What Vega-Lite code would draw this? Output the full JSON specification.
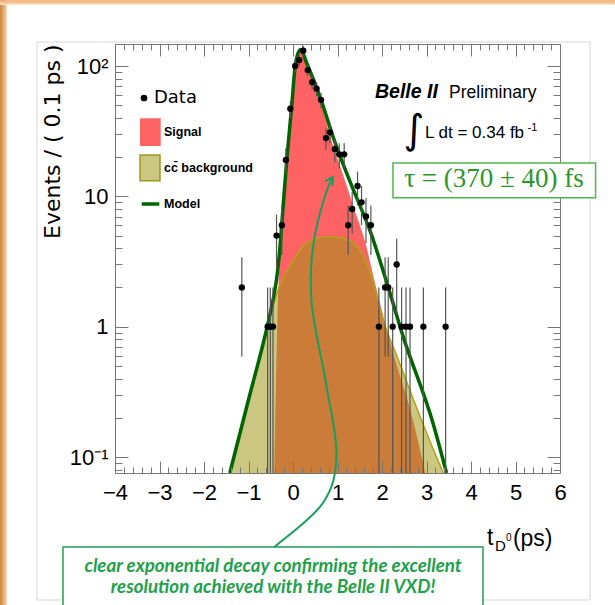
{
 "$schema": "https://vega.github.io/schema/vega-lite/v6.json",
 "width": 445,
 "height": 429,
 "autosize": {"type": "none"},
 "padding": {"left": 115, "top": 44, "right": 55, "bottom": 132},
 "background": "white",
 "datasets": {
  "points": [
   {"t": -1.15, "n": 2, "lo": 0.59, "hi": 3.41},
   {"t": -0.57, "n": 1, "lo": 0, "hi": 2},
   {"t": -0.51, "n": 1, "lo": 0, "hi": 2},
   {"t": -0.45, "n": 1, "lo": 0, "hi": 2},
   {"t": -0.37, "n": 5, "lo": 2.76, "hi": 7.24},
   {"t": -0.25, "n": 6, "lo": 3.55, "hi": 8.45},
   {"t": -0.16, "n": 19, "lo": 14.64, "hi": 23.36},
   {"t": -0.06, "n": 47, "lo": 40.14, "hi": 53.86},
   {"t": 0.05, "n": 100, "lo": 90, "hi": 110},
   {"t": 0.14, "n": 111, "lo": 100.46, "hi": 121.54},
   {"t": 0.23, "n": 131, "lo": 119.55, "hi": 142.45},
   {"t": 0.33, "n": 93, "lo": 83.36, "hi": 102.64},
   {"t": 0.43, "n": 75, "lo": 66.34, "hi": 83.66},
   {"t": 0.53, "n": 67, "lo": 58.81, "hi": 75.19},
   {"t": 0.63, "n": 55, "lo": 47.58, "hi": 62.42},
   {"t": 0.74, "n": 28, "lo": 22.71, "hi": 33.29},
   {"t": 0.83, "n": 31, "lo": 25.43, "hi": 36.57},
   {"t": 0.94, "n": 23, "lo": 18.2, "hi": 27.8},
   {"t": 1.04, "n": 21, "lo": 16.42, "hi": 25.58},
   {"t": 1.15, "n": 21, "lo": 16.42, "hi": 25.58},
   {"t": 1.24, "n": 6, "lo": 3.55, "hi": 8.45},
   {"t": 1.33, "n": 8, "lo": 5.17, "hi": 10.83},
   {"t": 1.45, "n": 12, "lo": 8.54, "hi": 15.46},
   {"t": 1.54, "n": 9, "lo": 6, "hi": 12},
   {"t": 1.64, "n": 7, "lo": 4.35, "hi": 9.65},
   {"t": 1.75, "n": 6, "lo": 3.55, "hi": 8.45},
   {"t": 1.93, "n": 1, "lo": 0, "hi": 2},
   {"t": 2.07, "n": 2, "lo": 0.59, "hi": 3.41},
   {"t": 2.14, "n": 2, "lo": 0.59, "hi": 3.41},
   {"t": 2.24, "n": 1, "lo": 0, "hi": 2},
   {"t": 2.33, "n": 3, "lo": 1.27, "hi": 4.73},
   {"t": 2.44, "n": 1, "lo": 0, "hi": 2},
   {"t": 2.54, "n": 1, "lo": 0, "hi": 2},
   {"t": 2.63, "n": 1, "lo": 0, "hi": 2},
   {"t": 2.93, "n": 1, "lo": 0, "hi": 2},
   {"t": 3.43, "n": 1, "lo": 0, "hi": 2}
  ],
  "signal": [
   {"t": -0.42, "v": 0.0754}, {"t": -0.37, "v": 0.6}, {"t": -0.34, "v": 1.5}, {"t": -0.3, "v": 3.2},
   {"t": -0.25, "v": 6.0}, {"t": -0.14, "v": 18.5}, {"t": -0.03, "v": 48}, {"t": 0.045, "v": 96},
   {"t": 0.1, "v": 120}, {"t": 0.17, "v": 131}, {"t": 0.31, "v": 101}, {"t": 0.63, "v": 51},
   {"t": 0.91, "v": 24}, {"t": 1.06, "v": 17}, {"t": 1.36, "v": 8.3}, {"t": 1.65, "v": 4.1},
   {"t": 1.81, "v": 2.4}, {"t": 2.25, "v": 0.63}, {"t": 2.7, "v": 0.19}, {"t": 2.97, "v": 0.0754}
  ],
  "background": [
   {"t": -1.42, "v": 0.0754}, {"t": -1.0, "v": 0.275}, {"t": -0.58, "v": 1.0}, {"t": -0.35, "v": 1.85},
   {"t": -0.07, "v": 2.9}, {"t": 0.31, "v": 4.4}, {"t": 0.79, "v": 4.9}, {"t": 1.1, "v": 4.8},
   {"t": 1.36, "v": 4.4}, {"t": 1.6, "v": 3.4}, {"t": 1.8, "v": 2.2}, {"t": 2.0, "v": 1.2},
   {"t": 2.33, "v": 0.6}, {"t": 2.7, "v": 0.28}, {"t": 3.15, "v": 0.115}, {"t": 3.38, "v": 0.0754}
  ],
  "model": [
   {"t": -1.42, "v": 0.0754}, {"t": -1.0, "v": 0.275}, {"t": -0.58, "v": 1.0}, {"t": -0.45, "v": 1.6},
   {"t": -0.37, "v": 2.3}, {"t": -0.3, "v": 3.8}, {"t": -0.25, "v": 6.3}, {"t": -0.14, "v": 19},
   {"t": -0.03, "v": 49}, {"t": 0.045, "v": 97}, {"t": 0.1, "v": 122}, {"t": 0.17, "v": 134},
   {"t": 0.31, "v": 105}, {"t": 0.63, "v": 55}, {"t": 0.91, "v": 28}, {"t": 1.28, "v": 13},
   {"t": 1.77, "v": 5.0}, {"t": 2.07, "v": 2.4}, {"t": 2.47, "v": 0.85}, {"t": 3.15, "v": 0.18},
   {"t": 3.45, "v": 0.0754}
  ]
 },
 "layer": [
  {
   "layer": [
    {
     "data": {"values": [{}]},
     "mark": {"type": "rect", "fill": {"gradient": "linear", "x1": 0, "x2": 1, "y1": 0, "y2": 0, "stops": [{"offset": 0, "color": "#cf843a"}, {"offset": 1, "color": "#f3d2ae"}]}},
     "encoding": {"x": {"datum": -6.584}, "x2": {"datum": -6.43}, "y": {"datum": 320}, "y2": {"datum": 0.0073}}
    },
    {
     "data": {"values": [{}]},
     "mark": {"type": "rect", "fill": {"gradient": "linear", "x1": 0, "x2": 0, "y1": 0, "y2": 1, "stops": [{"offset": 0, "color": "#f0a35c"}, {"offset": 1, "color": "#fbe6d2"}]}},
     "encoding": {"x": {"datum": -6.584}, "x2": {"datum": 7.236}, "y": {"datum": 320}, "y2": {"datum": 294}}
    },
    {
     "data": {"values": [{}]},
     "mark": {"type": "rect", "fillOpacity": 0, "stroke": "#d6d6d6", "strokeWidth": 1},
     "encoding": {"x": {"datum": -5.753}, "x2": {"datum": 6.674}, "y": {"datum": 152.8}, "y2": {"datum": 0.008}}
    },
    {
     "data": {"name": "signal"},
     "mark": {"type": "area", "color": "#ff6262", "interpolate": "monotone"},
     "encoding": {
      "x": {"field": "t", "type": "quantitative", "scale": {"domain": [-4, 6], "nice": false, "zero": false},
       "axis": {"orient": "bottom", "values": [-4, -3, -2, -1, 0, 1, 2, 3, 4, 5, 6], "format": "d", "tickSize": -12, "labelPadding": 21, "labelFontSize": 22, "labelFont": "Liberation Sans", "labelColor": "#000", "labelFlush": false, "labelOverlap": false, "domainColor": "#777", "tickColor": "#777", "grid": false, "zindex": 1,
        "title": "(ps)", "titleFont": "Liberation Sans", "titleFontSize": 23, "titleFontWeight": "normal", "titleColor": "#000", "titleAlign": "right", "titleAnchor": "end", "titleBaseline": "alphabetic", "titleX": 437, "titleY": 72}},
      "y": {"field": "v", "type": "quantitative", "scale": {"type": "log", "domain": [0.0754, 147.5], "nice": false},
       "axis": {"orient": "left", "values": [0.1, 1, 10, 100], "tickSize": -13, "labelPadding": 20, "labelFontSize": 22, "labelFont": "Liberation Sans", "labelColor": "#000", "labelFlush": false, "labelOverlap": false, "domainColor": "#777", "tickColor": "#777", "grid": false, "zindex": 1,
        "labelExpr": "datum.value > 50 ? '10²' : datum.value > 5 ? '10' : datum.value > 0.5 ? '1' : '10⁻¹'",
        "title": "Events / ( 0.1 ps )", "titleFont": "DejaVu Sans", "titleFontSize": 22, "titleFontWeight": "normal", "titleColor": "#000", "titleAngle": -90, "titleAlign": "right", "titleBaseline": "middle", "titleX": -63, "titleY": 0}},
      "y2": {"datum": 0.0754}
     }
    },
    {
     "data": {"name": "background"},
     "mark": {"type": "area", "color": "#9d9313", "opacity": 0.53, "interpolate": "monotone"},
     "encoding": {"x": {"field": "t", "type": "quantitative"}, "y": {"field": "v", "type": "quantitative"}, "y2": {"datum": 0.0754}}
    },
    {
     "data": {"name": "background"},
     "mark": {"type": "line", "color": "#b3a414", "strokeWidth": 1.5, "interpolate": "monotone"},
     "encoding": {"x": {"field": "t", "type": "quantitative"}, "y": {"field": "v", "type": "quantitative"}}
    },
    {
     "data": {"name": "model"},
     "mark": {"type": "line", "color": "#006400", "strokeWidth": 3.5, "interpolate": "monotone"},
     "encoding": {"x": {"field": "t", "type": "quantitative"}, "y": {"field": "v", "type": "quantitative"}}
    },
    {
     "data": {"values": [{}]},
     "mark": {"type": "point", "filled": true, "color": "#000", "size": 45, "opacity": 1},
     "encoding": {"x": {"datum": -3.348}, "y": {"datum": 56.83}}
    },
    {
     "data": {"values": [{}]},
     "mark": {"type": "text", "text": "Data", "font": "DejaVu Sans", "fontSize": 18, "align": "left", "baseline": "middle", "color": "#000"},
     "encoding": {"x": {"datum": -3.124}, "y": {"datum": 56.83}}
    },
    {
     "data": {"values": [{}]},
     "mark": {"type": "rect", "fill": "#ff6262"},
     "encoding": {"x": {"datum": -3.438}, "x2": {"datum": -2.973}, "y": {"datum": 39.7}, "y2": {"datum": 24.33}}
    },
    {
     "data": {"values": [{}]},
     "mark": {"type": "text", "text": "Signal", "font": "Liberation Sans", "fontWeight": "bold", "fontSize": 12.5, "align": "left", "baseline": "middle", "color": "#000"},
     "encoding": {"x": {"datum": -2.899}, "y": {"datum": 31.17}}
    },
    {
     "data": {"values": [{}]},
     "mark": {"type": "rect", "fill": "#cbc682", "stroke": "#9c9a1c", "strokeWidth": 1.5},
     "encoding": {"x": {"datum": -3.438}, "x2": {"datum": -2.989}, "y": {"datum": 20.76}, "y2": {"datum": 13.18}}
    },
    {
     "data": {"values": [{}]},
     "mark": {"type": "text", "text": "cc̄ background", "font": "Liberation Sans", "fontWeight": "bold", "fontSize": 12.5, "align": "left", "baseline": "middle", "color": "#000"},
     "encoding": {"x": {"datum": -2.899}, "y": {"datum": 16.5}}
    },
    {
     "data": {"values": [{}]},
     "mark": {"type": "rule", "color": "#006400", "strokeWidth": 3.5},
     "encoding": {"x": {"datum": -3.4}, "x2": {"datum": -3.004}, "y": {"datum": 8.732}}
    },
    {
     "data": {"values": [{}]},
     "mark": {"type": "text", "text": "Model", "font": "Liberation Sans", "fontWeight": "bold", "fontSize": 12.5, "align": "left", "baseline": "middle", "color": "#000"},
     "encoding": {"x": {"datum": -2.899}, "y": {"datum": 8.732}}
    },
    {
     "data": {"values": [{}]},
     "mark": {"type": "text", "text": "Belle II", "font": "Liberation Sans", "fontWeight": "bold", "fontStyle": "italic", "fontSize": 19.5, "align": "left", "baseline": "alphabetic", "color": "#000"},
     "encoding": {"x": {"datum": 1.843}, "y": {"datum": 56.83}}
    },
    {
     "data": {"values": [{}]},
     "mark": {"type": "text", "text": "Preliminary", "font": "Liberation Sans", "fontSize": 17.5, "align": "left", "baseline": "alphabetic", "color": "#000"},
     "encoding": {"x": {"datum": 3.506}, "y": {"datum": 56.83}}
    },
    {
     "data": {"values": [{}]},
     "mark": {"type": "text", "text": "∫", "font": "DejaVu Sans", "fontSize": 40, "align": "center", "baseline": "middle", "color": "#000"},
     "encoding": {"x": {"datum": 2.719}, "y": {"datum": 31.72}}
    },
    {
     "data": {"values": [{}]},
     "mark": {"type": "text", "text": "L dt = 0.34 fb", "font": "Liberation Sans", "fontSize": 17, "align": "left", "baseline": "alphabetic", "color": "#000"},
     "encoding": {"x": {"datum": 2.966}, "y": {"datum": 28.03}}
    },
    {
     "data": {"values": [{}]},
     "mark": {"type": "text", "text": "-1", "font": "Liberation Sans", "fontSize": 11, "align": "left", "baseline": "alphabetic", "color": "#000"},
     "encoding": {"x": {"datum": 5.27}, "y": {"datum": 31.72}}
    },
    {
     "data": {"values": [{}]},
     "mark": {"type": "rect", "fill": "white", "stroke": "#4cb84c", "strokeWidth": 1.5},
     "encoding": {"x": {"datum": 2.247}, "x2": {"datum": 6.8}, "y": {"datum": 18.02}, "y2": {"datum": 9.744}}
    },
    {
     "data": {"values": [{}]},
     "mark": {"type": "text", "text": "τ = (370 ± 40) fs", "font": "Liberation Serif", "fontSize": 27, "align": "center", "baseline": "alphabetic", "color": "#2a972a"},
     "encoding": {"x": {"datum": 4.517}, "y": {"datum": 11.79}}
    },
    {
     "data": {"values": [{}]},
     "mark": {"type": "rect", "fill": "white", "stroke": "#22a052", "strokeWidth": 1.5},
     "encoding": {"x": {"datum": -5.169}, "x2": {"datum": 4.27}, "y": {"datum": 0.02038}, "y2": {"datum": 0.00394}}
    },
    {
     "data": {"values": [{}]},
     "mark": {"type": "text", "text": "clear exponential decay confirming the excellent", "font": "Lato", "fontStyle": "italic", "fontWeight": "bold", "fontSize": 18.7, "align": "center", "baseline": "middle", "color": "#22a04a"},
     "encoding": {"x": {"datum": -0.449}, "y": {"datum": 0.01458}}
    },
    {
     "data": {"values": [{}]},
     "mark": {"type": "text", "text": "resolution achieved with the Belle II VXD!", "font": "Lato", "fontStyle": "italic", "fontWeight": "bold", "fontSize": 18.7, "align": "center", "baseline": "middle", "color": "#22a04a"},
     "encoding": {"x": {"datum": -0.449}, "y": {"datum": 0.01006}}
    },
    {
     "data": {"values": [{}]},
     "mark": {"type": "point", "shape": "M-0.169,1C-0.125,0.96,0.037,0.845,0.093,0.762C0.149,0.679,0.163,0.608,0.166,0.503C0.169,0.398,0.135,0.271,0.113,0.134C0.091,-0.003,0.043,-0.187,0.032,-0.319C0.021,-0.451,0.026,-0.546,0.045,-0.66C0.064,-0.774,0.115,-0.95,0.147,-1M0.104,-0.977L0.147,-1L0.145,-0.951", "filled": false, "stroke": "#14a05c", "strokeWidth": 2, "size": 136900, "opacity": 1},
     "encoding": {"x": {"datum": 0.2865}, "y": {"datum": 0.5356}}
    },
    {
     "data": {"values": [{}]},
     "mark": {"type": "text", "text": "t", "font": "Liberation Sans", "fontSize": 23, "align": "left", "baseline": "alphabetic", "color": "#000"},
     "encoding": {"x": {"datum": 4.36}, "y": {"datum": 0.02113}}
    },
    {
     "data": {"values": [{}]},
     "mark": {"type": "text", "text": "D", "font": "Liberation Sans", "fontSize": 15, "align": "left", "baseline": "alphabetic", "color": "#000"},
     "encoding": {"x": {"datum": 4.539}, "y": {"datum": 0.019}}
    },
    {
     "data": {"values": [{}]},
     "mark": {"type": "text", "text": "0", "font": "Liberation Sans", "fontSize": 10, "align": "left", "baseline": "alphabetic", "color": "#000"},
     "encoding": {"x": {"datum": 4.787}, "y": {"datum": 0.02266}}
    }
   ]
  },
  {
   "data": {"name": "points"},
   "layer": [
    {
     "mark": {"type": "rule", "color": "#555", "strokeWidth": 1.2, "invalid": "show"},
     "encoding": {
      "x": {"field": "t", "type": "quantitative", "scale": {"domain": [-4, 6], "nice": false, "zero": false}, "axis": null},
      "y": {"field": "lo", "type": "quantitative", "scale": {"type": "log", "domain": [0.0754, 147.5], "nice": false, "clamp": true}, "axis": null},
      "y2": {"field": "hi"}
     }
    },
    {
     "mark": {"type": "point", "filled": true, "color": "#000", "size": 40, "opacity": 1},
     "encoding": {"x": {"field": "t", "type": "quantitative"}, "y": {"field": "n", "type": "quantitative"}}
    }
   ]
  },
  {
   "data": {"name": "points"},
   "mark": {"type": "point", "opacity": 0},
   "encoding": {
    "x": {"field": "t", "type": "quantitative", "scale": {"domain": [-4, 6], "nice": false, "zero": false},
     "axis": {"orient": "bottom", "values": [-3.8,-3.6,-3.4,-3.2,-2.8,-2.6,-2.4,-2.2,-1.8,-1.6,-1.4,-1.2,-0.8,-0.6,-0.4,-0.2,0.2,0.4,0.6,0.8,1.2,1.4,1.6,1.8,2.2,2.4,2.6,2.8,3.2,3.4,3.6,3.8,4.2,4.4,4.6,4.8,5.2,5.4,5.6,5.8], "tickSize": -6, "labels": false, "domain": false, "grid": false, "title": null, "tickColor": "#777", "zindex": 1}},
    "y": {"field": "n", "type": "quantitative", "scale": {"type": "log", "domain": [0.0754, 147.5], "nice": false},
     "axis": {"orient": "left", "values": [0.08,0.09,0.2,0.3,0.4,0.5,0.6,0.7,0.8,0.9,2,3,4,5,6,7,8,9,20,30,40,50,60,70,80,90], "tickSize": -7, "labels": false, "domain": false, "grid": false, "title": null, "tickColor": "#777", "zindex": 1}}
   }
  },
  {
   "data": {"name": "points"},
   "mark": {"type": "point", "opacity": 0},
   "encoding": {
    "x": {"field": "t", "type": "quantitative", "scale": {"domain": [-4, 6], "nice": false, "zero": false},
     "axis": {"orient": "top", "values": [-4,-3,-2,-1,0,1,2,3,4,5,6], "tickSize": -12, "labels": false, "domain": true, "grid": false, "title": null, "tickColor": "#777", "domainColor": "#777", "zindex": 0}},
    "y": {"field": "n", "type": "quantitative", "scale": {"type": "log", "domain": [0.0754, 147.5], "nice": false},
     "axis": {"orient": "right", "values": [0.1, 1, 10, 100], "tickSize": -13, "labels": false, "domain": true, "grid": false, "title": null, "tickColor": "#777", "domainColor": "#777", "zindex": 0}}
   }
  },
  {
   "data": {"name": "points"},
   "mark": {"type": "point", "opacity": 0},
   "encoding": {
    "x": {"field": "t", "type": "quantitative", "scale": {"domain": [-4, 6], "nice": false, "zero": false},
     "axis": {"orient": "top", "values": [-3.8,-3.6,-3.4,-3.2,-2.8,-2.6,-2.4,-2.2,-1.8,-1.6,-1.4,-1.2,-0.8,-0.6,-0.4,-0.2,0.2,0.4,0.6,0.8,1.2,1.4,1.6,1.8,2.2,2.4,2.6,2.8,3.2,3.4,3.6,3.8,4.2,4.4,4.6,4.8,5.2,5.4,5.6,5.8], "tickSize": -6, "labels": false, "domain": false, "grid": false, "title": null, "tickColor": "#777", "zindex": 0}},
    "y": {"field": "n", "type": "quantitative", "scale": {"type": "log", "domain": [0.0754, 147.5], "nice": false},
     "axis": {"orient": "right", "values": [0.08,0.09,0.2,0.3,0.4,0.5,0.6,0.7,0.8,0.9,2,3,4,5,6,7,8,9,20,30,40,50,60,70,80,90], "tickSize": -7, "labels": false, "domain": false, "grid": false, "title": null, "tickColor": "#777", "zindex": 0}}
   }
  }
 ],
 "resolve": {"scale": {"x": "independent", "y": "independent"}},
 "config": {
  "view": {"stroke": null},
  "axis": {"grid": false}
 }
}
